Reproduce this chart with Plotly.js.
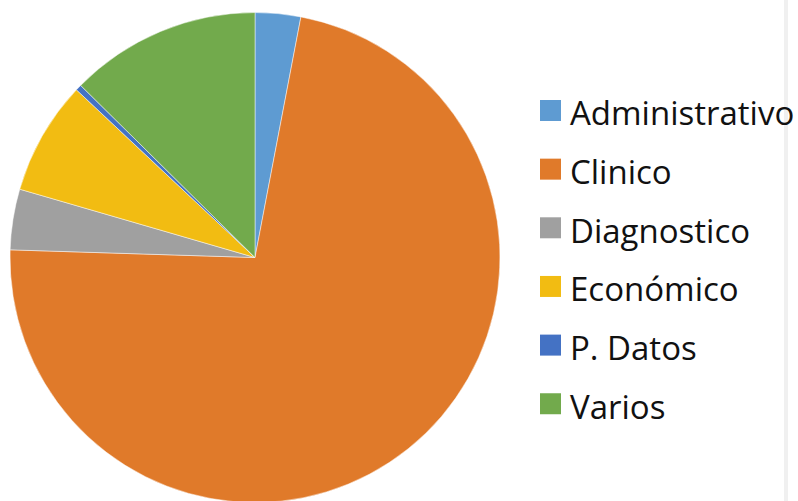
<!DOCTYPE html>
<html><head><meta charset="utf-8">
<script src="https://cdn.plot.ly/plotly-3.0.1.min.js"></script>
<style>html,body{margin:0;padding:0;background:#fff;overflow:hidden;width:798px;height:501px}#chart{width:798px;height:503px}</style>
</head><body><div id="chart"></div>
<script>
const labels = ["Administrativo", "Clinico", "Diagnostico", "Económico", "P. Datos", "Varios"];
const values = [3.0, 72.5, 4.0, 7.5, 0.4, 12.6];
const colors = ["#5e9bd2", "#e07a2a", "#a0a0a0", "#f2bc12", "#4472c4", "#72aa4c"];

const W = 798, H = 503;
const px = x => x / W, py = y => 1 - y / H;

const shapes = [{type:"rect", xref:"paper", yref:"paper", x0:px(784), x1:px(788), y0:0, y1:1,
  fillcolor:"#f0f0f0", line:{width:0}, layer:"below"}];
const annotations = [];
labels.forEach((lab, i) => {
  const cy = 110.5 + 58.65 * i;
  shapes.push({type:"rect", xref:"paper", yref:"paper", x0:px(540), x1:px(561),
    y0:py(cy + 10.5), y1:py(cy - 10.5), fillcolor:colors[i], line:{width:0}});
  annotations.push({xref:"paper", yref:"paper", x:px(568), y:py(cy + 2.5), xanchor:"left", yanchor:"middle",
    text:lab, showarrow:false, font:{family:"Open Sans", size:33, color:"#111"}});
});

const data = [{type:"pie", labels, values, sort:false, direction:"clockwise", rotation:0,
  marker:{colors, line:{color:"rgba(255,255,255,0.6)", width:0.8}},
  textinfo:"none", hoverinfo:"label+percent",
  domain:{x:[px(10), px(500)], y:[0, 0.976]}}];

const layout = {width:W, height:H, margin:{l:0, r:0, t:0, b:0}, showlegend:false,
  paper_bgcolor:"#fff", shapes, annotations};
Plotly.newPlot("chart", data, layout, {displayModeBar:false, staticPlot:true});
</script></body></html>
